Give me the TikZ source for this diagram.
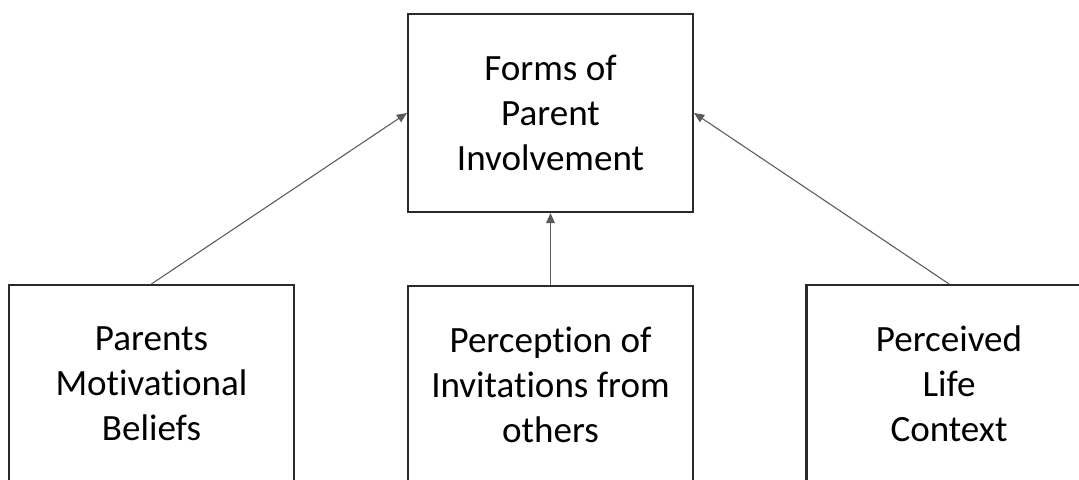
\documentclass[tikz,border=0pt]{standalone}
\usepackage{fontspec}
\setmainfont[RawFeature={-liga;-dlig;-clig}]{Carlito}
\usetikzlibrary{arrows.meta}
\definecolor{boxline}{HTML}{2A2A2A}
\definecolor{arrline}{HTML}{5A5A5A}
\begin{document}
\begin{tikzpicture}[x=0.75pt,y=-0.75pt,
  box/.style={draw=boxline,line width=1.6pt,minimum width=213.75pt,minimum height=148.5pt,
    inner sep=0pt,align=center,font=\fontsize{27.8}{33.75}\selectfont,text=black},
  conn/.style={draw=arrline,line width=0.8pt,-{Triangle[length=7.5pt,width=6.5pt]}}]
\useasboundingbox (0,0) rectangle (1079,479);
\clip (0,0) rectangle (1079,479);
\fill[white] (0,0) rectangle (1079,479);
\node[box] (T) at (550.5,113) {Forms of\\Parent\\Involvement};
\node[box] (L) at (151.5,384) {Parents\\Motivational\\Beliefs};
\node[box] (M) at (550.5,385) {Perception of\\Invitations from\\others};
\node[box] (R) at (949,384) {Perceived\\Life\\Context};
\draw[conn] (L.north) -- (T.west);
\draw[conn] (M.north) -- (T.south);
\draw[conn] (R.north) -- (T.east);
\end{tikzpicture}
\end{document}
